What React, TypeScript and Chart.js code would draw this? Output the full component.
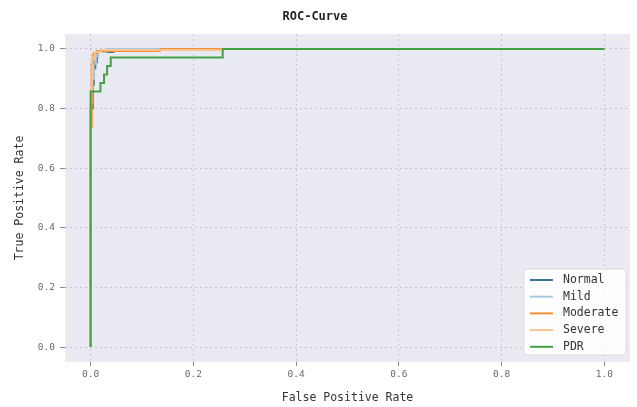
import React, { useEffect, useRef } from 'react';
import { Chart, registerables } from 'chart.js';

Chart.register(...registerables);

const FONT = "'DejaVu Sans Mono', monospace";

const seriesNames = ['Normal', 'Mild', 'Moderate', 'Severe', 'PDR'];
const seriesColors = ['#3b7696', '#a9c9dd', '#f29035', '#f9c28f', '#45a046'];

const normalFpr = [0, 0, 0.004, 0.004, 0.006, 0.006, 0.009, 0.009, 0.012, 0.012, 0.014, 0.014, 0.044, 0.044, 0.12, 0.12, 1];
const normalTpr = [0, 0.8, 0.8, 0.88, 0.88, 0.935, 0.935, 0.955, 0.955, 0.975, 0.975, 0.99, 0.99, 0.994, 0.994, 1, 1];

const mildFpr = [0, 0, 0.003, 0.003, 0.006, 0.006, 0.01, 0.01, 0.014, 0.014, 0.03, 0.03, 1];
const mildTpr = [0, 0.82, 0.82, 0.9, 0.9, 0.95, 0.95, 0.975, 0.975, 0.99, 0.99, 1, 1];

const moderateFpr = [0, 0, 0.002, 0.002, 0.005, 0.005, 0.012, 0.012, 0.135, 0.135, 1];
const moderateTpr = [0, 0.74, 0.74, 0.95, 0.95, 0.985, 0.985, 0.993, 0.993, 1, 1];

const severeFpr = [0, 0, 0.003, 0.003, 0.008, 0.008, 0.02, 0.02, 0.255, 0.255, 1];
const severeTpr = [0, 0.86, 0.86, 0.97, 0.97, 0.99, 0.99, 0.996, 0.996, 1, 1];

const pdrFpr = [0, 0, 0.019, 0.019, 0.026, 0.026, 0.032, 0.032, 0.039, 0.039, 0.257, 0.257, 1];
const pdrTpr = [0, 0.857, 0.857, 0.886, 0.886, 0.914, 0.914, 0.943, 0.943, 0.971, 0.971, 1, 1];

const xTicks = [0, 0.2, 0.4, 0.6, 0.8, 1.0];
const yTicks = [0, 0.2, 0.4, 0.6, 0.8, 1.0];

const allFpr = [normalFpr, mildFpr, moderateFpr, severeFpr, pdrFpr];
const allTpr = [normalTpr, mildTpr, moderateTpr, severeTpr, pdrTpr];

const plotBg = {
  id: 'plotBg',
  beforeDraw(chart: any) {
    const { ctx, chartArea } = chart;
    ctx.save();
    ctx.fillStyle = '#eaeaf2';
    ctx.fillRect(chartArea.left, chartArea.top, chartArea.right - chartArea.left, chartArea.bottom - chartArea.top);
    ctx.restore();
  },
};

const innerLegend = {
  id: 'innerLegend',
  afterDraw(chart: any) {
    const { ctx, chartArea } = chart;
    const ds = chart.data.datasets;
    const w = 102;
    const rowH = 16.7;
    const h = 86;
    const x0 = chartArea.right - 4 - w;
    const y0 = chartArea.bottom - 7 - h;
    ctx.save();
    ctx.beginPath();
    const r = 3;
    ctx.moveTo(x0 + r, y0);
    ctx.lineTo(x0 + w - r, y0);
    ctx.quadraticCurveTo(x0 + w, y0, x0 + w, y0 + r);
    ctx.lineTo(x0 + w, y0 + h - r);
    ctx.quadraticCurveTo(x0 + w, y0 + h, x0 + w - r, y0 + h);
    ctx.lineTo(x0 + r, y0 + h);
    ctx.quadraticCurveTo(x0, y0 + h, x0, y0 + h - r);
    ctx.lineTo(x0, y0 + r);
    ctx.quadraticCurveTo(x0, y0, x0 + r, y0);
    ctx.closePath();
    ctx.fillStyle = 'rgba(255,255,255,0.9)';
    ctx.fill();
    ctx.strokeStyle = '#dcdcdc';
    ctx.lineWidth = 1;
    ctx.stroke();
    ctx.font = `11.5px ${FONT}`;
    ctx.textBaseline = 'middle';
    ctx.textAlign = 'left';
    ds.forEach((d: any, i: number) => {
      const y = y0 + 11 + i * rowH;
      ctx.beginPath();
      ctx.strokeStyle = d.borderColor;
      ctx.lineWidth = 2;
      ctx.moveTo(x0 + 6, y);
      ctx.lineTo(x0 + 29, y);
      ctx.stroke();
      ctx.fillStyle = '#333';
      ctx.fillText(d.label, x0 + 39, y);
    });
    ctx.restore();
  },
};

export default function App() {
  const ref = useRef<HTMLCanvasElement>(null);
  useEffect(() => {
    if (!ref.current) return;
    const datasets = seriesNames.map((name, i) => ({
      label: name,
      data: allFpr[i].map((x, j) => ({ x, y: allTpr[i][j] })),
      borderColor: seriesColors[i],
      backgroundColor: seriesColors[i],
      borderWidth: 2,
      pointRadius: 0,
      tension: 0,
      fill: false,
      order: seriesNames.length - i,
    }));
    const tickFont = { family: FONT, size: 9.5 };
    const titleFont = { family: FONT, size: 11.5 };
    const chart = new Chart(ref.current, {
      type: 'line',
      data: { datasets },
      options: {
        animation: false,
        responsive: false,
        layout: { padding: { left: 0, right: 7, top: 0, bottom: 0 } },
        plugins: {
          legend: { display: false },
          tooltip: { enabled: false },
          title: {
            display: true,
            text: 'ROC-Curve',
            color: '#222',
            font: { family: FONT, size: 12, weight: 'bold' },
            padding: { top: 10, bottom: 9.6 },
          },
        },
        scales: {
          x: {
            type: 'linear',
            min: -0.05,
            max: 1.05,
            afterBuildTicks: (s: any) => { s.ticks = xTicks.map((v) => ({ value: v })); },
            afterFit: (s: any) => { s.height = 45; },
            ticks: {
              callback: (v: any) => Number(v).toFixed(1),
              font: tickFont,
              color: '#6a6a6a',
              padding: 3,
              autoSkip: false,
              maxRotation: 0,
            },
            grid: { color: '#c6c6ce', lineWidth: 1, tickLength: 4, tickColor: '#8a8a8a', drawTicks: true },
            border: { display: false, dash: [2, 3] },
            title: { display: true, text: 'False Positive Rate', font: titleFont, color: '#333', padding: { top: 0, bottom: 2 } },
          },
          y: {
            type: 'linear',
            min: -0.05,
            max: 1.05,
            afterBuildTicks: (s: any) => { s.ticks = yTicks.map((v) => ({ value: v })); },
            afterFit: (s: any) => { s.width = 65; },
            ticks: {
              callback: (v: any) => Number(v).toFixed(1),
              font: tickFont,
              color: '#6a6a6a',
              padding: 5,
              autoSkip: false,
            },
            grid: { color: '#c6c6ce', lineWidth: 1, tickLength: 5, tickColor: '#8a8a8a', drawTicks: true },
            border: { display: false, dash: [2, 3] },
            title: { display: true, text: 'True Positive Rate', font: titleFont, color: '#333', padding: { top: 13, bottom: 0 } },
          },
        },
      },
      plugins: [plotBg, innerLegend],
    });
    return () => chart.destroy();
  }, []);
  return (
    <div style={{ position: 'absolute', left: 0, top: 0, width: 637, height: 407, background: '#fff' }}>
      <canvas ref={ref} width={637} height={407} style={{ display: 'block' }} />
    </div>
  );
}
